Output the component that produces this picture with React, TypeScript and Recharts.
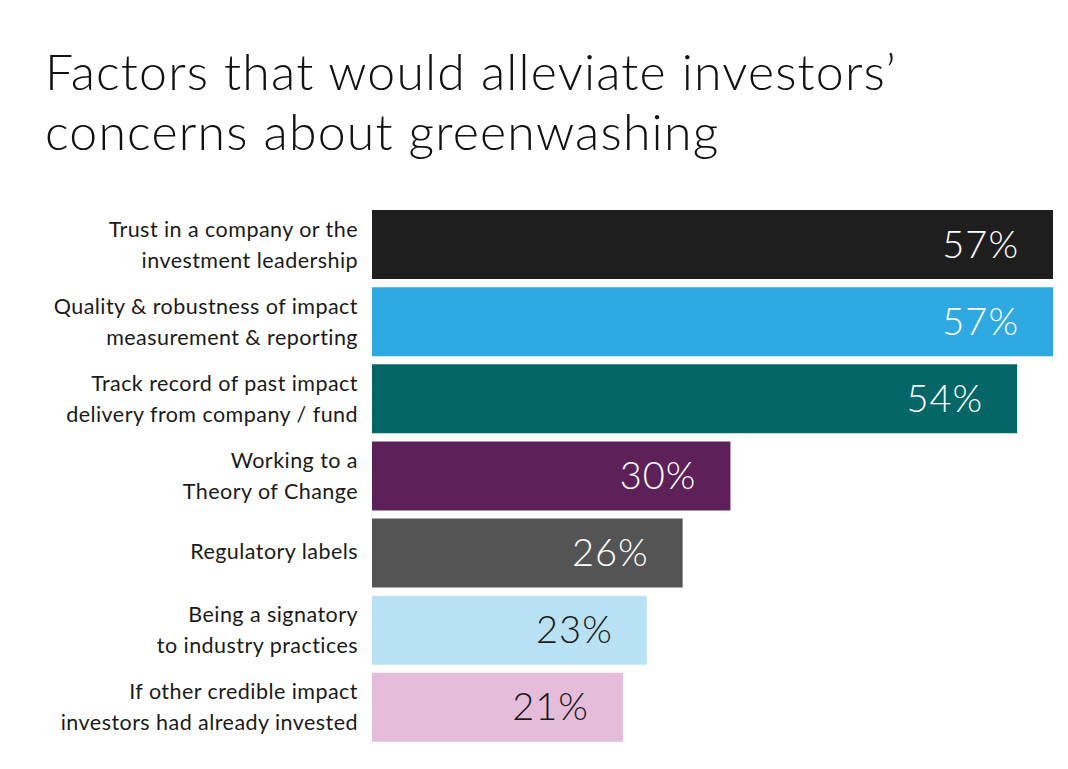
import { BarChart, Bar, XAxis, YAxis, Cell, LabelList } from "recharts"

const categories = [
  "Trust in a company or the\ninvestment leadership",
  "Quality & robustness of impact\nmeasurement & reporting",
  "Track record of past impact\ndelivery from company / fund",
  "Working to a\nTheory of Change",
  "Regulatory labels",
  "Being a signatory\nto industry practices",
  "If other credible impact\ninvestors had already invested",
]
const values = [57, 57, 54, 30, 26, 23, 21]

const COLORS = ["#1f1e1e", "#2ea9e1", "#046666", "#5d2058", "#545454", "#b9e1f4", "#e5bddb"]
const LABEL_COLORS = ["#fff", "#fff", "#fff", "#fff", "#fff", "#1a1a1a", "#1a1a1a"]

const data = categories.map((name, i) => ({ name, value: values[i] }))

const FONT = "Lato, 'Open Sans', sans-serif"

function CategoryTick(props: any) {
  const { y, payload } = props
  const lines: string[] = String(payload.value).split("\n")
  const x = 358
  const common = { textAnchor: "end" as const, fontSize: 21.5, fill: "#1a1a1a", fontFamily: FONT, letterSpacing: 0.45 }
  if (lines.length === 1) {
    return (
      <text x={x} y={y + 6} {...common}>
        {lines[0]}
      </text>
    )
  }
  return (
    <text {...common}>
      <tspan x={x} y={y - 8}>{lines[0]}</tspan>
      <tspan x={x} y={y + 23}>{lines[1]}</tspan>
    </text>
  )
}

function ValueLabel(props: any) {
  const { x, y, width, height, value, index } = props
  return (
    <text
      x={x + width - 34}
      y={y + height / 2 + 13}
      textAnchor="end"
      fontSize={38}
      fontWeight={300}
      letterSpacing={1}
      fill={LABEL_COLORS[index]}
      fontFamily={FONT}
    >
      {value}%
    </text>
  )
}

export default function App() {
  return (
    <div style={{ position: "absolute", left: 0, top: 0, width: 1068, height: 769, background: "#fff" }}>
      <div
        style={{
          position: "absolute",
          left: 45,
          top: 41,
          fontFamily: FONT,
          fontWeight: 300,
          fontSize: 50,
          lineHeight: "60px",
          letterSpacing: 1.2,
          color: "#111",
          whiteSpace: "nowrap",
        }}
      >
        Factors that would alleviate investors’
        <br />
        concerns about greenwashing
      </div>
      <BarChart
        width={1068}
        height={769}
        data={data}
        layout="vertical"
        margin={{ top: 206, right: 15, bottom: 23, left: 0 }}
        barSize={69}
      >
        <XAxis type="number" domain={[0, 57]} hide />
        <YAxis
          type="category"
          dataKey="name"
          width={372}
          axisLine={false}
          tickLine={false}
          tick={<CategoryTick />}
          interval={0}
        />
        <Bar dataKey="value" isAnimationActive={false}>
          {data.map((d, i) => (
            <Cell key={d.name} fill={COLORS[i]} />
          ))}
          <LabelList dataKey="value" content={<ValueLabel />} />
        </Bar>
      </BarChart>
    </div>
  )
}
